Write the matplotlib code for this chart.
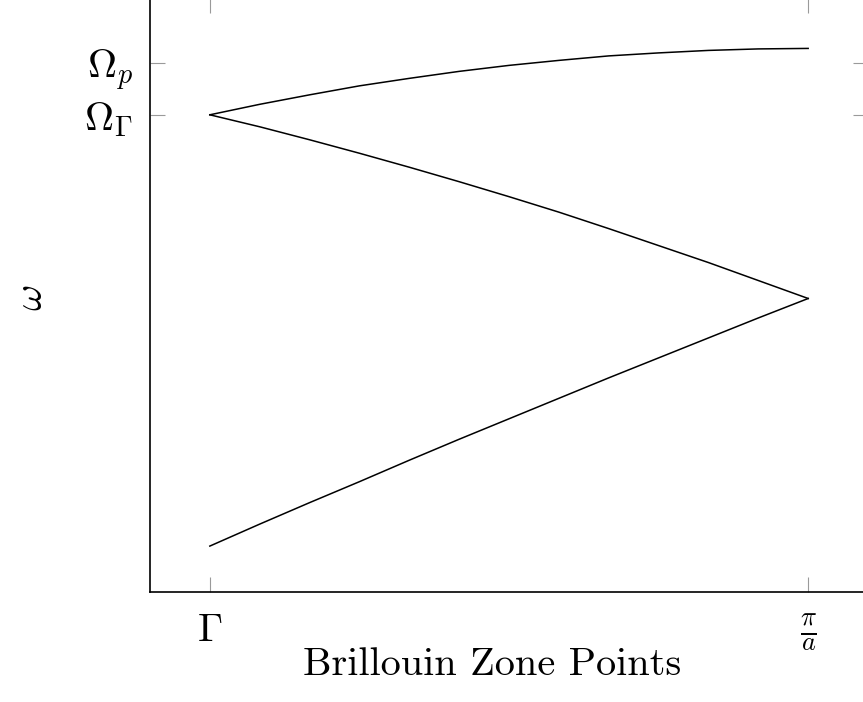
import numpy as np
import matplotlib
matplotlib.use("Agg")
import matplotlib.pyplot as plt

plt.rcParams["mathtext.fontset"] = "cm"
plt.rcParams["font.family"] = ["cmr10", "DejaVu Serif"]
plt.rcParams["axes.formatter.use_mathtext"] = True

# wave vector across half the zone, Gamma = 0, pi/a = 1
k = np.array([0, 1, 2, 3, 4, 5, 6, 7, 8, 9, 10, 11, 12]) / 12

# three branches (omega, arbitrary units)
upper = [0.864, 0.885, 0.904, 0.922, 0.937, 0.951, 0.963,
         0.973, 0.982, 0.988, 0.993, 0.996, 0.997]
middle = [0.864, 0.840, 0.814, 0.787, 0.759, 0.730, 0.700,
          0.669, 0.636, 0.602, 0.568, 0.532, 0.496]
lower = [0.000, 0.044, 0.087, 0.129, 0.172, 0.214, 0.255,
         0.296, 0.337, 0.377, 0.417, 0.457, 0.496]

xtick_pos = [0, 1]
xtick_labels = [r"$\Gamma$", r"$\frac{\pi}{a}$"]
ytick_pos = [0.864, 0.968]
ytick_labels = [r"$\Omega_\Gamma$", r"$\Omega_p$"]

W, H = 863, 702
fig = plt.figure(figsize=(W / 100, H / 100), dpi=100)
# axis box runs past the right and top edges of the canvas
ax = fig.add_axes([150 / W, 1 - 592 / H, (868 - 150) / W, (592 + 2) / H])

for branch in (upper, middle, lower):
    ax.plot(k, branch, color="black", lw=1.1, solid_joinstyle="round")

ax.set_xlim(-0.1, 1.1)
ax.set_ylim(-0.092, 1.098)

ax.set_xticks(xtick_pos)
ax.set_xticklabels(xtick_labels, fontsize=29)
ax.get_xticklabels()[1].set_fontsize(27)
ax.set_yticks(ytick_pos)
ax.set_yticklabels(ytick_labels, fontsize=29)
ax.tick_params(axis="x", pad=15)
ax.tick_params(axis="y", pad=12)
ax.tick_params(direction="in", length=11, width=0.8, color="#9a9a9a",
               top=True, right=True)

for sp in ax.spines.values():
    sp.set_linewidth(1.2)
    sp.set_color("black")

fig.text(492 / W, 1 - 665 / H, "Brillouin Zone Points", fontsize=29,
         ha="center", va="center")
fig.text(32 / W, 1 - 298 / H, r"$\omega$", fontsize=29, rotation=90,
         ha="center", va="center")

fig.savefig("out.png", dpi=100)
